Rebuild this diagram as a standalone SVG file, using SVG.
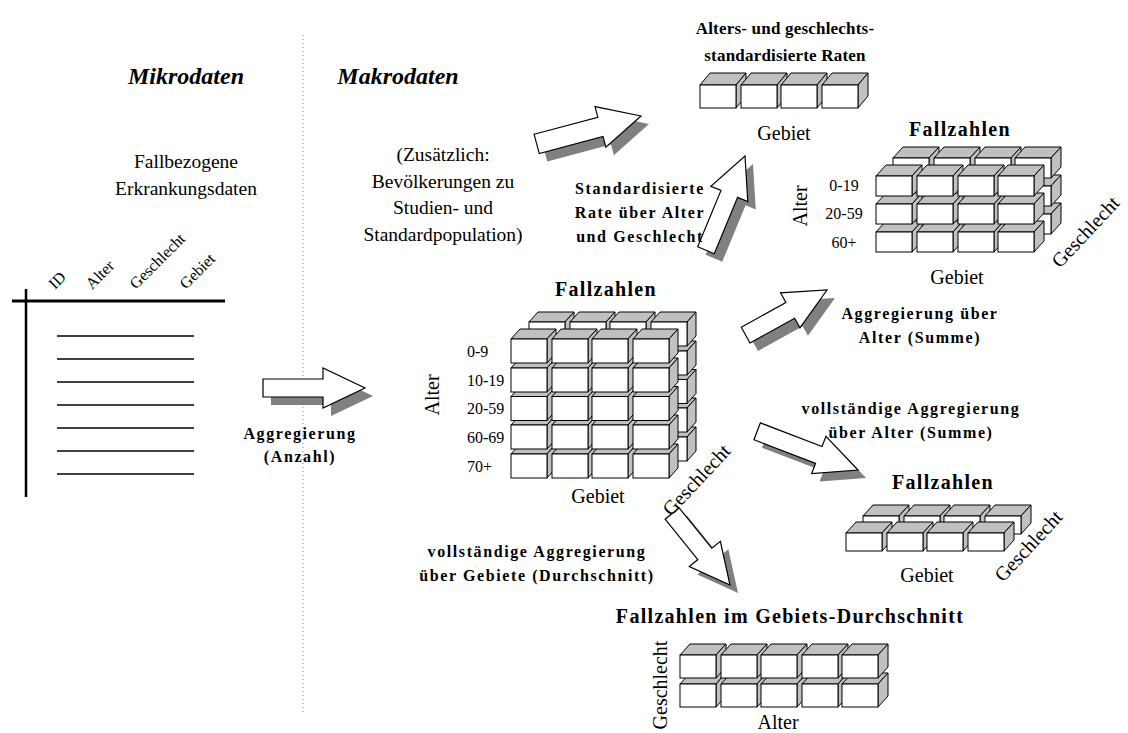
<svg xmlns="http://www.w3.org/2000/svg" width="1128" height="733" viewBox="0 0 1128 733" font-family="'Liberation Serif', 'Times New Roman', 'DejaVu Serif', serif">
  <style>
    text { font-family: 'Liberation Serif', 'Times New Roman', 'DejaVu Serif', serif; fill: #000; }
    .title { font-size: 24px; font-weight: bold; font-style: italic; text-anchor: middle; }
    .head { font-size: 20px; font-weight: bold; letter-spacing: 1.3px; text-anchor: middle; }
    .head2 { font-size: 17px; font-weight: bold; letter-spacing: 0.2px; text-anchor: middle; }
    .lbl { font-size: 16px; font-weight: bold; letter-spacing: 1.6px; text-anchor: middle; }
    .txt { font-size: 19.5px; text-anchor: middle; }
    .axis { font-size: 20px; text-anchor: middle; }
    .axs { font-size: 20px; }
    .row { font-size: 16px; }
    .col { font-size: 16px; }
    .front { fill: #fff; stroke: #000; stroke-width: 1; }
    .face { fill: #c0c0c0; stroke: #000; stroke-width: 1; stroke-linejoin: round; }
    .arrow { fill: #fff; stroke: #000; stroke-width: 1.2; stroke-linejoin: miter; }
    .shadow { fill: #808080; stroke: none; }
    .rule { stroke: #000; fill: none; }
  </style>
  <defs>
    <!-- cube: origin at top-left corner of the front face -->
    <g id="cubeM">
      <path class="face" d="M0 0 L9 -10 L45 -10 L36 0 Z"/>
      <path class="face" d="M36 0 L45 -10 L45 14 L36 24 Z"/>
      <rect class="front" x="0" y="0" width="36" height="24"/>
    </g>
    <g id="cubeR">
      <path class="face" d="M0 0 L10 -12 L46 -12 L36 0 Z"/>
      <path class="face" d="M36 0 L46 -12 L46 11 L36 23 Z"/>
      <rect class="front" x="0" y="0" width="36" height="23"/>
    </g>
    <g id="cubeT">
      <path class="face" d="M0 0 L10 -11 L46 -11 L36 0 Z"/>
      <path class="face" d="M36 0 L46 -11 L46 9 L36 20 Z"/>
      <rect class="front" x="0" y="0" width="36" height="20"/>
    </g>
    <g id="cubeL">
      <path class="face" d="M0 0 L10 -11 L46 -11 L36 0 Z"/>
      <path class="face" d="M36 0 L46 -11 L46 7 L36 18 Z"/>
      <rect class="front" x="0" y="0" width="36" height="18"/>
    </g>
    <g id="cubeB">
      <path class="face" d="M0 0 L10 -11 L46 -11 L36 0 Z"/>
      <path class="face" d="M36 0 L46 -11 L46 12 L36 23 Z"/>
      <rect class="front" x="0" y="0" width="36" height="23"/>
    </g>
  </defs>

  <rect x="0" y="0" width="1128" height="733" fill="#fff"/>

  <!-- separator between micro and macro data -->
  <line x1="303" y1="35" x2="303" y2="715" stroke="#888" stroke-width="1" stroke-dasharray="1 3"/>

  <text class="title" x="186" y="84">Mikrodaten</text>
  <text class="title" x="398" y="84">Makrodaten</text>

  <!-- micro data table -->
  <g id="microTable">
    <text class="txt" x="186" y="168">Fallbezogene</text>
    <text class="txt" x="186" y="195">Erkrankungsdaten</text>
    <text class="col" transform="translate(55,290) rotate(-45)">ID</text>
    <text class="col" transform="translate(92,290) rotate(-45)">Alter</text>
    <text class="col" transform="translate(136,290) rotate(-45)">Geschlecht</text>
    <text class="col" transform="translate(186,290) rotate(-45)">Gebiet</text>
    <line class="rule" x1="12" y1="301" x2="225" y2="301" stroke-width="3"/>
    <line class="rule" x1="26" y1="289" x2="26" y2="497" stroke-width="2.5"/>
    <g class="rule" stroke-width="1.3">
      <line x1="57" y1="336" x2="194" y2="336"/>
      <line x1="57" y1="359" x2="194" y2="359"/>
      <line x1="57" y1="382" x2="194" y2="382"/>
      <line x1="57" y1="405" x2="194" y2="405"/>
      <line x1="57" y1="428" x2="194" y2="428"/>
      <line x1="57" y1="451" x2="194" y2="451"/>
      <line x1="57" y1="474" x2="194" y2="474"/>
    </g>
  </g>

  <!-- block arrows -->
  <g id="connectors">
    <g id="arrowAggregation">
      <polygon class="shadow" transform="translate(373,396)" points="-102,-9 -42,-9 -42,-20 0,0 -42,20 -42,9 -102,9"/>
      <polygon class="arrow" transform="translate(365,388)" points="-102,-9 -42,-9 -42,-20 0,0 -42,20 -42,9 -102,9"/>
    </g>
    <g id="arrowPopulation">
      <polygon class="shadow" transform="translate(649,124) rotate(-15)" points="-108,-10 -42,-10 -42,-21 0,0 -42,21 -42,10 -108,10"/>
      <polygon class="arrow" transform="translate(641,116) rotate(-15)" points="-108,-10 -42,-10 -42,-21 0,0 -42,21 -42,10 -108,10"/>
    </g>
    <g id="arrowStandard">
      <polygon class="shadow" transform="translate(753,164) rotate(-67.5)" points="-102,-9 -41,-9 -41,-20 0,0 -41,20 -41,9 -102,9"/>
      <polygon class="arrow" transform="translate(745,156) rotate(-67.5)" points="-102,-9 -41,-9 -41,-20 0,0 -41,20 -41,9 -102,9"/>
    </g>
    <g id="arrowAge">
      <polygon class="shadow" transform="translate(835,298) rotate(-29)" points="-93,-9 -42,-9 -42,-20 0,0 -42,20 -42,9 -93,9"/>
      <polygon class="arrow" transform="translate(827,290) rotate(-29)" points="-93,-9 -42,-9 -42,-20 0,0 -42,20 -42,9 -93,9"/>
    </g>
    <g id="arrowAgeFull">
      <polygon class="shadow" transform="translate(866,478) rotate(21)" points="-108,-9 -42,-9 -42,-20 0,0 -42,20 -42,9 -108,9"/>
      <polygon class="arrow" transform="translate(858,470) rotate(21)" points="-108,-9 -42,-9 -42,-20 0,0 -42,20 -42,9 -108,9"/>
    </g>
    <g id="arrowArea">
      <polygon class="shadow" transform="translate(738,593) rotate(51)" points="-92,-9 -40,-9 -40,-20 0,0 -40,20 -40,9 -92,9"/>
      <polygon class="arrow" transform="translate(730,585) rotate(51)" points="-92,-9 -40,-9 -40,-20 0,0 -40,20 -40,9 -92,9"/>
    </g>
  </g>

  <!-- arrow captions -->
  <text class="lbl" x="300" y="439">Aggregierung</text>
  <text class="lbl" x="300" y="462">(Anzahl)</text>

  <text class="txt" x="443" y="161">(Zusätzlich:</text>
  <text class="txt" x="443" y="188">Bevölkerungen zu</text>
  <text class="txt" x="443" y="214">Studien- und</text>
  <text class="txt" x="443" y="241">Standardpopulation)</text>

  <text class="lbl" x="640" y="194">Standardisierte</text>
  <text class="lbl" x="640" y="218">Rate über Alter</text>
  <text class="lbl" x="640" y="242">und Geschlecht</text>

  <text class="lbl" x="920" y="319">Aggregierung über</text>
  <text class="lbl" x="920" y="343">Alter (Summe)</text>

  <text class="lbl" x="911" y="414">vollständige Aggregierung</text>
  <text class="lbl" x="911" y="438">über Alter (Summe)</text>

  <text class="lbl" x="537" y="557">vollständige Aggregierung</text>
  <text class="lbl" x="537" y="581">über Gebiete (Durchschnitt)</text>

  <!-- main cube: Alter x Gebiet x Geschlecht -->
  <g id="cubeMain">
    <text class="head" x="606" y="296">Fallzahlen</text>
    <!-- back layer -->
    <use href="#cubeM" x="529" y="437"/><use href="#cubeM" x="570" y="437"/><use href="#cubeM" x="610" y="437"/><use href="#cubeM" x="651" y="437"/>
    <use href="#cubeM" x="529" y="408"/><use href="#cubeM" x="570" y="408"/><use href="#cubeM" x="610" y="408"/><use href="#cubeM" x="651" y="408"/>
    <use href="#cubeM" x="529" y="379.5"/><use href="#cubeM" x="570" y="379.5"/><use href="#cubeM" x="610" y="379.5"/><use href="#cubeM" x="651" y="379.5"/>
    <use href="#cubeM" x="529" y="351"/><use href="#cubeM" x="570" y="351"/><use href="#cubeM" x="610" y="351"/><use href="#cubeM" x="651" y="351"/>
    <use href="#cubeM" x="529" y="322"/><use href="#cubeM" x="570" y="322"/><use href="#cubeM" x="610" y="322"/><use href="#cubeM" x="651" y="322"/>
    <!-- front layer -->
    <use href="#cubeM" x="511" y="454"/><use href="#cubeM" x="552" y="454"/><use href="#cubeM" x="592" y="454"/><use href="#cubeM" x="633" y="454"/>
    <use href="#cubeM" x="511" y="425"/><use href="#cubeM" x="552" y="425"/><use href="#cubeM" x="592" y="425"/><use href="#cubeM" x="633" y="425"/>
    <use href="#cubeM" x="511" y="396.5"/><use href="#cubeM" x="552" y="396.5"/><use href="#cubeM" x="592" y="396.5"/><use href="#cubeM" x="633" y="396.5"/>
    <use href="#cubeM" x="511" y="368"/><use href="#cubeM" x="552" y="368"/><use href="#cubeM" x="592" y="368"/><use href="#cubeM" x="633" y="368"/>
    <use href="#cubeM" x="511" y="339"/><use href="#cubeM" x="552" y="339"/><use href="#cubeM" x="592" y="339"/><use href="#cubeM" x="633" y="339"/>
    <text class="row" x="467" y="357">0-9</text>
    <text class="row" x="467" y="386">10-19</text>
    <text class="row" x="467" y="414">20-59</text>
    <text class="row" x="467" y="443">60-69</text>
    <text class="row" x="467" y="472">70+</text>
    <text class="axis" transform="translate(439,395) rotate(-90)">Alter</text>
    <text class="axis" x="598" y="503">Gebiet</text>
    <text class="axs" transform="translate(671,517) rotate(-47)">Geschlecht</text>
  </g>

  <!-- standardised rates per area -->
  <g id="cubeRates">
    <text class="head2" x="785" y="34">Alters- und geschlechts-</text>
    <text class="head2" x="785" y="61">standardisierte Raten</text>
    <use href="#cubeR" x="700" y="85"/><use href="#cubeR" x="741" y="85"/><use href="#cubeR" x="781" y="85"/><use href="#cubeR" x="822" y="85"/>
    <text class="axis" x="784" y="140">Gebiet</text>
  </g>

  <!-- counts by age group, area and sex -->
  <g id="cubeAgeGroups">
    <text class="head" x="960" y="136">Fallzahlen</text>
    <use href="#cubeT" x="893" y="214"/><use href="#cubeT" x="934" y="214"/><use href="#cubeT" x="975" y="214"/><use href="#cubeT" x="1015" y="214"/>
    <use href="#cubeT" x="893" y="186"/><use href="#cubeT" x="934" y="186"/><use href="#cubeT" x="975" y="186"/><use href="#cubeT" x="1015" y="186"/>
    <use href="#cubeT" x="893" y="158"/><use href="#cubeT" x="934" y="158"/><use href="#cubeT" x="975" y="158"/><use href="#cubeT" x="1015" y="158"/>
    <use href="#cubeT" x="876" y="232"/><use href="#cubeT" x="917" y="232"/><use href="#cubeT" x="958" y="232"/><use href="#cubeT" x="998" y="232"/>
    <use href="#cubeT" x="876" y="204"/><use href="#cubeT" x="917" y="204"/><use href="#cubeT" x="958" y="204"/><use href="#cubeT" x="998" y="204"/>
    <use href="#cubeT" x="876" y="176"/><use href="#cubeT" x="917" y="176"/><use href="#cubeT" x="958" y="176"/><use href="#cubeT" x="998" y="176"/>
    <text class="row" x="844" y="191" text-anchor="middle">0-19</text>
    <text class="row" x="844" y="219" text-anchor="middle">20-59</text>
    <text class="row" x="844" y="248" text-anchor="middle">60+</text>
    <text class="axis" transform="translate(807,206) rotate(-90)">Alter</text>
    <text class="axis" x="957" y="284">Gebiet</text>
    <text class="axs" transform="translate(1060,269) rotate(-47)">Geschlecht</text>
  </g>

  <!-- counts by area and sex -->
  <g id="cubeAreaSex">
    <text class="head" x="943" y="489">Fallzahlen</text>
    <use href="#cubeL" x="863" y="516"/><use href="#cubeL" x="904" y="516"/><use href="#cubeL" x="944" y="516"/><use href="#cubeL" x="985" y="516"/>
    <use href="#cubeL" x="846" y="533"/><use href="#cubeL" x="887" y="533"/><use href="#cubeL" x="927" y="533"/><use href="#cubeL" x="968" y="533"/>
    <text class="axis" x="927" y="582">Gebiet</text>
    <text class="axs" transform="translate(1003,583) rotate(-47)">Geschlecht</text>
  </g>

  <!-- area average by age and sex -->
  <g id="cubeAverage">
    <text class="head" x="790" y="623">Fallzahlen im Gebiets-Durchschnitt</text>
    <use href="#cubeB" x="680" y="684"/><use href="#cubeB" x="721" y="684"/><use href="#cubeB" x="761" y="684"/><use href="#cubeB" x="802" y="684"/><use href="#cubeB" x="842" y="684"/>
    <use href="#cubeB" x="680" y="655"/><use href="#cubeB" x="721" y="655"/><use href="#cubeB" x="761" y="655"/><use href="#cubeB" x="802" y="655"/><use href="#cubeB" x="842" y="655"/>
    <text class="axis" transform="translate(667,685) rotate(-90)">Geschlecht</text>
    <text class="axis" x="778" y="729">Alter</text>
  </g>
</svg>
